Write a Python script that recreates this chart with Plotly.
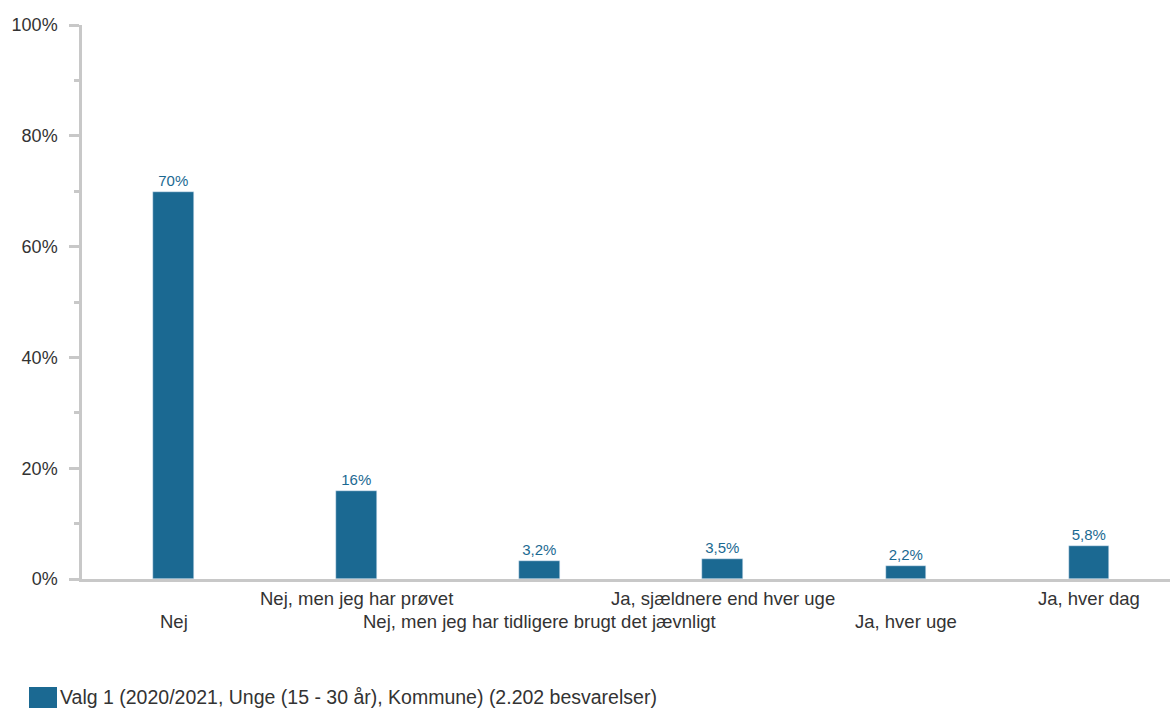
import plotly.graph_objects as go

categories = ["Nej", "Nej, men jeg har prøvet", "Nej, men jeg har tidligere brugt det jævnligt",
              "Ja, sjældnere end hver uge", "Ja, hver uge", "Ja, hver dag"]
values = [69.9, 15.8, 3.3, 3.6, 2.3, 6.0]
value_labels = ["70%", "16%", "3,2%", "3,5%", "2,2%", "5,8%"]
series_name = "Valg 1 (2020/2021, Unge (15 - 30 år), Kommune) (2.202 besvarelser)"
y_ticks = [0, 20, 40, 60, 80, 100]

BAR = "#1b6992"
AXIS = "#c8c8c8"
TXT = "#333333"
FONT = "Liberation Sans, Arial, sans-serif"

W, H = 1170, 708
L, R, T, B = 82, 0, 25, 129
pw = W - L - R
ph = H - T - B

xpos = list(range(len(categories)))

fig = go.Figure()
fig.add_trace(go.Bar(
    x=xpos, y=values, width=0.223, marker_color=BAR, name=series_name,
    text=value_labels, textposition="outside", cliponaxis=False,
    textfont=dict(color=BAR, size=15, family=FONT), showlegend=False,
))

annotations = []
for i, c in enumerate(categories):
    annotations.append(dict(
        x=i, y=0, xref="x", yref="y", text=c, showarrow=False,
        yanchor="middle", xanchor="center", yshift=-19 if i % 2 == 1 else -42,
        font=dict(size=18.5, color=TXT, family=FONT),
    ))

# manual legend
lx0, lx1, ly0, ly1 = 29, 57, 687, 715
annotations.append(dict(
    x=(58 - L) / pw, y=1 - (697 - T) / ph, xref="paper", yref="paper", text=series_name,
    showarrow=False, xanchor="left", yanchor="middle",
    font=dict(size=19.5, color=TXT, family=FONT),
))
shapes = [dict(
    type="rect", xref="paper", yref="paper",
    x0=(lx0 - L) / pw, x1=(lx1 - L) / pw,
    y0=1 - (ly1 - T) / ph, y1=1 - (ly0 - T) / ph,
    fillcolor=BAR, line=dict(width=0),
)]

fig.update_layout(
    width=W, height=H, margin=dict(l=L, r=R, t=T, b=B),
    plot_bgcolor="white", paper_bgcolor="white",
    font=dict(family=FONT, color=TXT, size=16),
    annotations=annotations, shapes=shapes, showlegend=False,
    bargap=0,
)
fig.update_xaxes(
    range=[-0.5, -0.5 + pw / 183.1], showticklabels=False, ticks="",
    showline=True, linecolor=AXIS, linewidth=2.5, showgrid=False, zeroline=False,
    fixedrange=True,
)
fig.update_yaxes(
    range=[0, 100], tickvals=y_ticks, ticktext=[f"{v}%" for v in y_ticks],
    ticks="outside", ticklen=10, tickwidth=2.5, tickcolor=AXIS, ticklabelstandoff=8,
    minor=dict(dtick=10, ticks="outside", ticklen=5, tickwidth=2.5, tickcolor=AXIS),
    showline=True, linecolor=AXIS, linewidth=2.5, showgrid=False, zeroline=False,
    tickfont=dict(size=18, color=TXT, family=FONT), fixedrange=True,
)

fig.write_html("out.html", config={"displayModeBar": False},
               post_script="document.body.style.margin='0';document.body.style.overflow='hidden';")
